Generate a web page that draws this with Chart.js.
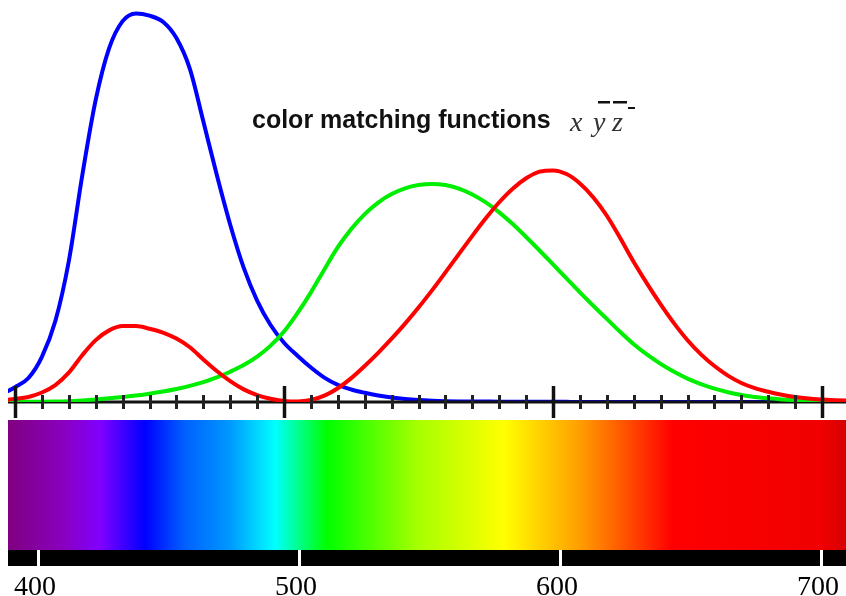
<!DOCTYPE html>
<html>
<head>
<meta charset="utf-8">
<script src="https://cdn.jsdelivr.net/npm/chart.js@4.4.1/dist/chart.umd.min.js"></script>
<style>
html,body{margin:0;padding:0;background:#fff;}
#wrap{width:846px;height:596px;position:relative;}
</style>
</head>
<body>
<div id="wrap"><canvas id="c" width="846" height="596"></canvas></div>
<script>
// Wavelengths (nm) and CIE colour matching functions
const wavelengths = [395,400,405,410,415,420,425,430,435,440,445,450,455,460,465,470,475,480,485,490,495,500,505,510,515,520,525,530,535,540,545,550,555,560,565,570,575,580,585,590,595,600,605,610,615,620,625,630,635,640,645,650,655,660,665,670,675,680,685,690,695,700,705,710,715];
const xBar = [0.0077,0.0143,0.0232,0.0435,0.0776,0.1344,0.2148,0.2839,0.3285,0.3483,0.3481,0.3362,0.3187,0.2908,0.2511,0.1954,0.1421,0.0956,0.0580,0.0320,0.0147,0.0049,0.0024,0.0093,0.0291,0.0633,0.1096,0.1655,0.2257,0.2904,0.3597,0.4334,0.5121,0.5945,0.6784,0.7621,0.8425,0.9163,0.9786,1.0263,1.0567,1.0622,1.0456,1.0026,0.9384,0.8544,0.7514,0.6424,0.5419,0.4479,0.3608,0.2835,0.2187,0.1649,0.1212,0.0874,0.0636,0.0468,0.0329,0.0227,0.0158,0.0114,0.0081,0.0058,0.0041];
const yBar = [0.0002,0.0004,0.0006,0.0012,0.0022,0.0040,0.0073,0.0116,0.0168,0.0230,0.0298,0.0380,0.0480,0.0600,0.0739,0.0910,0.1126,0.1390,0.1693,0.2080,0.2586,0.3230,0.4073,0.5030,0.6082,0.7100,0.7932,0.8620,0.9149,0.9540,0.9803,0.9950,1.0000,0.9950,0.9786,0.9520,0.9154,0.8700,0.8163,0.7570,0.6949,0.6310,0.5668,0.5030,0.4412,0.3810,0.3210,0.2650,0.2170,0.1750,0.1382,0.1070,0.0816,0.0610,0.0446,0.0320,0.0232,0.0170,0.0119,0.0082,0.0057,0.0041,0.0029,0.0021,0.0015];
const zBar = [0.0362,0.0679,0.1102,0.2074,0.3713,0.6456,1.0391,1.3856,1.6230,1.7471,1.7826,1.7721,1.7441,1.6692,1.5281,1.2876,1.0419,0.8130,0.6162,0.4652,0.3533,0.2720,0.2123,0.1582,0.1117,0.0783,0.0573,0.0422,0.0298,0.0203,0.0134,0.0088,0.0058,0.0039,0.0028,0.0021,0.0018,0.0017,0.0014,0.0011,0.0010,0.0008,0.0006,0.0003,0.0002,0.0002,0.0001,0.0001,0,0,0,0,0,0,0,0,0,0,0,0,0,0,0,0,0];
const majorTicks = [400,500,600,700];
const minorTicks = [410,420,430,440,450,460,470,480,490,510,520,530,540,550,560,570,580,590,610,620,630,640,650,660,670,680,690];
const spectrumLabels = ['400','500','600','700'];
const spectrumLabelValues = [400,500,600,700];
// spectrum colour stops (wavelength nm, colour)
const spectrumStopNm = [388.5,410,424,441,456,473.5,490.8,510.7,546,578.5,607,622,643,700,709.6];
const spectrumStopColor = ['#800080','#8a00c0','#8000ff','#0000ff','#0060ff','#0098ff','#00ffff','#00ff00','#a8ff00','#ffff00','#ffa000','#ff6000','#ff0000','#f00000','#d80000'];

const toPts = arr => wavelengths.map((w,i)=>({x:w,y:arr[i]}));

const decor = {
  id:'decor',
  afterDatasetDraw(chart,args){
    if(args.index!==2) return; // after blue curve: axis line
    const ctx=chart.ctx, a=chart.chartArea, ys=chart.scales.y;
    const y0=ys.getPixelForValue(0);
    ctx.save();
    ctx.strokeStyle='#111';
    ctx.lineWidth=3;
    ctx.beginPath();ctx.moveTo(a.left,y0);ctx.lineTo(a.right,y0);ctx.stroke();
    ctx.restore();
  },
  afterDatasetsDraw(chart){
    const ctx=chart.ctx, xs=chart.scales.x, ys=chart.scales.y;
    const y0=ys.getPixelForValue(0);
    ctx.save();
    ctx.strokeStyle='#222';
    ctx.lineWidth=3;
    minorTicks.forEach(v=>{
      const px=Math.round(xs.getPixelForValue(v))+0.5;
      ctx.beginPath();ctx.moveTo(px,y0-7);ctx.lineTo(px,y0+7);ctx.stroke();
    });
    ctx.strokeStyle='#111';
    ctx.lineWidth=3.5;
    majorTicks.forEach(v=>{
      const px=Math.round(xs.getPixelForValue(v))+0.5;
      ctx.beginPath();ctx.moveTo(px,y0-16);ctx.lineTo(px,y0+16);ctx.stroke();
    });
    ctx.restore();
  },
  afterDraw(chart){
    const ctx=chart.ctx, x2=chart.scales.x2, a=chart.chartArea;
    const L=a.left, R=a.right;
    ctx.save();
    // spectrum bar
    const g=ctx.createLinearGradient(L,0,R,0);
    spectrumStopNm.forEach((nm,i)=>{
      let t=(x2.getPixelForValue(nm)-L)/(R-L);
      t=Math.max(0,Math.min(1,t));
      g.addColorStop(t,spectrumStopColor[i]);
    });
    ctx.fillStyle=g;
    ctx.fillRect(L,420,R-L,130);
    // black bar
    ctx.fillStyle='#000';
    ctx.fillRect(L,550,R-L,16);
    ctx.fillStyle='#fff';
    spectrumLabelValues.forEach(v=>{
      const px=Math.round(x2.getPixelForValue(v));
      ctx.fillRect(px-1,550,3,16);
    });
    // labels
    ctx.fillStyle='#000';
    ctx.font='28px "Liberation Serif", "DejaVu Serif", serif';
    ctx.textAlign='center';ctx.textBaseline='alphabetic';
    spectrumLabelValues.forEach((v,i)=>{
      const px=x2.getPixelForValue(v)-3;
      ctx.fillText(spectrumLabels[i],px,595);
    });
    // title
    ctx.textAlign='left';
    ctx.font='bold 25px "Liberation Sans", Arial, sans-serif';
    ctx.fillStyle='#111';
    ctx.fillText('color matching functions',252,128);
    ctx.font='italic 28px "Liberation Serif", "DejaVu Serif", serif';
    ctx.fillStyle='#333';
    ctx.fillText('x',570,131);
    ctx.fillText('y',593,131);
    ctx.fillText('z',612,131);
    ctx.fillStyle='#111';
    ctx.fillRect(598,101,12,2.5);
    ctx.fillRect(613,101,14,2.5);
    ctx.fillRect(628,107,7,2);
    ctx.restore();
  }
};

new Chart(document.getElementById('c'),{
  type:'line',
  data:{
    datasets:[
      {label:'x̄',data:toPts(xBar),borderColor:'#ff0000',borderWidth:4,pointRadius:0,cubicInterpolationMode:'monotone',fill:false,order:1},
      {label:'ȳ',data:toPts(yBar),borderColor:'#00ee00',borderWidth:4,pointRadius:0,cubicInterpolationMode:'monotone',fill:false,order:2},
      {label:'z̄',data:toPts(zBar),borderColor:'#0000ff',borderWidth:4,pointRadius:0,cubicInterpolationMode:'monotone',fill:false,order:3}
    ]
  },
  options:{
    responsive:false,
    animation:false,
    events:[],
    layout:{padding:{left:8,right:0,top:0,bottom:194}},
    plugins:{legend:{display:false},tooltip:{enabled:false},title:{display:false}},
    scales:{
      x:{type:'linear',min:397.4,max:708.9,display:false},
      x2:{type:'linear',axis:'x',min:388.5,max:709.6,display:false},
      y:{type:'linear',min:0,max:1.844,display:false}
    }
  },
  plugins:[decor]
});
</script>
</body>
</html>
